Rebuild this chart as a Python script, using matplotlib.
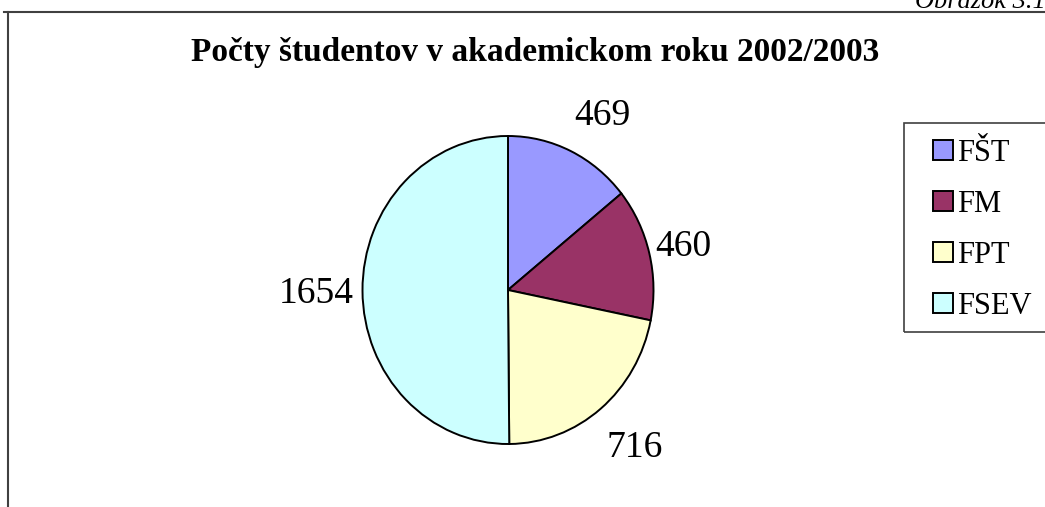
import numpy as np
import matplotlib
matplotlib.use("Agg")
import matplotlib.pyplot as plt
from matplotlib.lines import Line2D
from matplotlib.patches import Rectangle

categories = ["FŠT", "FM", "FPT", "FSEV"]
values = [469, 460, 716, 1654]
colors = ["#9999FF", "#993366", "#FFFFCC", "#CCFFFF"]
title = "Počty študentov v akademickom roku 2002/2003"
caption = "Obrázok 3.1"

W, H = 1045, 507
fig = plt.figure(figsize=(W / 100, H / 100), dpi=100)
serif = ["Liberation Serif", "DejaVu Serif"]

# frame lines (figure pixel coords)
frame_col = "#404040"
fig.add_artist(Line2D([4 / W, 1.0], [1 - 12 / H, 1 - 12 / H], transform=fig.transFigure,
                      color=frame_col, lw=1.5))
fig.add_artist(Line2D([8 / W, 8 / W], [1 - 12 / H, 0], transform=fig.transFigure,
                      color=frame_col, lw=1.5))

fig.text(1046 / W, 1 - 8 / H, caption, ha="right", va="baseline", fontsize=19,
         family=serif, style="italic")
fig.text(535 / W, 1 - 53 / H, title, ha="center", va="center", fontsize=24,
         family=serif, weight="bold")

# pie axes
cx, cy, rx, ry = 508, 290, 145.5, 154
ax = fig.add_axes([(cx - rx) / W, (H - cy - ry) / H, 2 * rx / W, 2 * ry / H])
wedges, _ = ax.pie(values, colors=colors, startangle=90, counterclock=False,
                   wedgeprops=dict(edgecolor="black", linewidth=1.4))
ax.set_aspect("auto")
ax.set_xlim(-1, 1)
ax.set_ylim(-1, 1)
ax.axis("off")

offsets = [(32, 26), (34, -3), (34, -48), (-46, -12)]
for w, v, off in zip(wedges, values, offsets):
    mid = np.deg2rad((w.theta1 + w.theta2) / 2)
    ax.annotate(str(v), xy=(np.cos(mid), np.sin(mid)), xytext=off,
                textcoords="offset pixels", ha="center", va="baseline",
                fontsize=27, family=serif, annotation_clip=False)

# legend frame
fig.add_artist(Rectangle((904 / W, 1 - 332 / H), 160 / W, 209 / H,
                         transform=fig.transFigure, fill=False,
                         edgecolor="#404040", lw=1.2))
leg = fig.legend(wedges, categories, loc="upper left",
                 bbox_to_anchor=(933 / W, 1 - 139 / H),
                 prop=dict(family=serif, size=22), frameon=False,
                 handlelength=0.65, handleheight=0.65,
                 handletextpad=0.15, labelspacing=0.72, borderaxespad=0,
                 borderpad=0)
for p in leg.get_patches():
    p.set_linewidth(1.4)

fig.savefig("out.png", dpi=100)
